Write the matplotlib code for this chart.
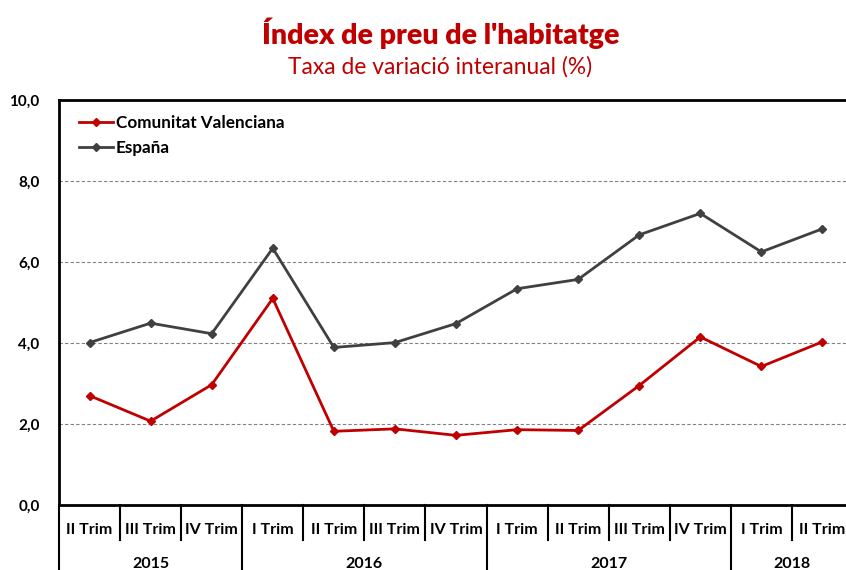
import matplotlib.pyplot as plt
import matplotlib.transforms as mtransforms

plt.rcParams['font.family'] = ['Lato', 'DejaVu Sans']

# Dades: taxa de variació interanual (%)
quarters = ["II Trim", "III Trim", "IV Trim",
            "I Trim", "II Trim", "III Trim", "IV Trim",
            "I Trim", "II Trim", "III Trim", "IV Trim",
            "I Trim", "II Trim"]
years = ["2015", "2016", "2017", "2018"]
year_counts = [3, 4, 4, 2]

cv_values = [2.70, 2.07, 2.97, 5.10, 1.82, 1.88, 1.72, 1.86, 1.84, 2.95, 4.15, 3.42, 4.03]
es_values = [4.01, 4.49, 4.23, 6.34, 3.89, 4.01, 4.48, 5.34, 5.57, 6.67, 7.20, 6.25, 6.82]

red = '#C00000'
grey = '#404040'

fig = plt.figure(figsize=(8.46, 5.70), dpi=100)
# l'eix continua fora de la imatge per la dreta
ax = fig.add_axes([59 / 846, 1 - 505 / 570, 794 / 846, 405 / 570])

x = list(range(len(quarters)))
ax.plot(x, cv_values, color=red, lw=2.0, marker='D', ms=4.5, label='Comunitat Valenciana')
ax.plot(x, es_values, color=grey, lw=2.0, marker='D', ms=4, label='España')

ax.set_xlim(-0.5, len(quarters) - 0.5)
ax.set_ylim(0, 10)
ax.set_yticks([0, 2, 4, 6, 8, 10])
ax.set_yticklabels(['0,0', '2,0', '4,0', '6,0', '8,0', '10,0'],
                   fontsize=11, fontweight='bold')
ax.tick_params(axis='y', length=0, pad=14)
ax.set_xticks([])

# Gitterlinien
for yv in [2, 4, 6, 8]:
    ax.axhline(yv, color='#808080', lw=0.8, ls=(0, (3, 2)), zorder=0)

for side in ['left', 'top', 'bottom']:
    ax.spines[side].set_color('black')
    ax.spines[side].set_linewidth(2)
ax.spines['right'].set_visible(False)

# Eix de categories (trimestres i anys)
trans = mtransforms.blended_transform_factory(ax.transData, ax.transAxes)
px = 1 / 405
year_edges = [-0.5]
for c in year_counts:
    year_edges.append(year_edges[-1] + c)

for k in range(len(quarters) + 1):
    xe = k - 0.5
    if xe in year_edges:
        y_end = -70 * px
    else:
        y_end = -35 * px
    ax.plot([xe, xe], [0, y_end], color='black', lw=1.5, transform=trans, clip_on=False)

for i, q in enumerate(quarters):
    ax.text(i, -25 * px, q, transform=trans, ha='center', va='center',
            fontsize=11.5, fontweight='bold')

for i, yr in enumerate(years):
    xc = (year_edges[i] + year_edges[i + 1]) / 2
    ax.text(xc, -59 * px, yr, transform=trans, ha='center', va='center',
            fontsize=11.5, fontweight='bold')

leg = ax.legend(loc='upper left', frameon=False, fontsize=12.3, handlelength=2.0,
                handletextpad=0.15, borderaxespad=0.5, labelspacing=0.5,
                bbox_to_anchor=(0.006, 1.0))
for t in leg.get_texts():
    t.set_fontweight('bold')

fig.text(441 / 846, 1 - 33 / 570, "Índex de preu de l'habitatge", color=red,
         fontsize=20.5, fontweight='heavy', ha='center', va='center')
fig.text(440 / 846, 1 - 67 / 570, "Taxa de variació interanual (%)", color=red,
         fontsize=16.4, ha='center', va='center')

fig.savefig('out.png', dpi=100)
